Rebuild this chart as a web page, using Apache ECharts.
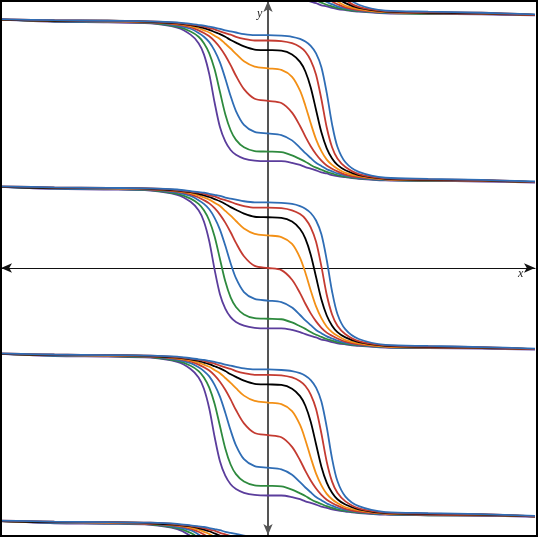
<!DOCTYPE html>
<html>
<head>
<meta charset="utf-8">
<script src="https://cdn.jsdelivr.net/npm/echarts@6/dist/echarts.min.js"></script>
<style>
  html, body { margin: 0; padding: 0; background: #fff; }
  #chart { width: 538px; height: 537px; }
</style>
</head>
<body>
<div id="chart"></div>
<script>
// x positions
var xs = [-5, -4, -3, -2.2, -1.7, -1.45, -1.3, -1.2, -1.1, -1.0, -0.9, -0.8, -0.7, -0.6, -0.45, -0.25, 0,
          0.25, 0.45, 0.6, 0.7, 0.8, 0.9, 1.0, 1.1, 1.2, 1.3, 1.45, 1.7, 2.2, 3, 4, 5];

// one family of curves (centre family), bottom plateau to top plateau
var yPurple = [1.52,1.48,1.47,1.45,1.37,1.24,1.08,0.87,0.50,-0.03,-0.49,-0.76,-0.92,-1.01,-1.08,-1.12,-1.13,
               -1.13,-1.16,-1.20,-1.24,-1.27,-1.30,-1.34,-1.36,-1.39,-1.41,-1.43,-1.46,-1.49,-1.50,-1.51,-1.53];
var yGreen = [1.52,1.49,1.48,1.46,1.39,1.30,1.20,1.08,0.89,0.59,0.17,-0.25,-0.55,-0.73,-0.87,-0.94,-0.95,
              -0.96,-1.02,-1.09,-1.14,-1.20,-1.25,-1.29,-1.33,-1.36,-1.39,-1.42,-1.45,-1.48,-1.50,-1.50,-1.52];
var yBlueLow = [1.52,1.49,1.48,1.47,1.41,1.35,1.27,1.20,1.10,0.94,0.72,0.42,0.09,-0.19,-0.45,-0.58,-0.61,
                -0.64,-0.74,-0.88,-0.98,-1.07,-1.16,-1.22,-1.28,-1.32,-1.36,-1.40,-1.44,-1.48,-1.49,-1.50,-1.52];
var yRedMid = [1.52,1.50,1.49,1.47,1.43,1.38,1.32,1.27,1.21,1.12,1.00,0.85,0.67,0.47,0.22,0.04,0,
               -0.04,-0.22,-0.47,-0.67,-0.85,-1.00,-1.12,-1.21,-1.27,-1.32,-1.38,-1.43,-1.47,-1.49,-1.50,-1.52];
var yOrange = [1.52,1.50,1.49,1.48,1.44,1.40,1.36,1.32,1.28,1.22,1.16,1.07,0.98,0.88,0.74,0.64,0.61,
               0.58,0.45,0.19,-0.09,-0.42,-0.72,-0.94,-1.10,-1.20,-1.27,-1.35,-1.41,-1.47,-1.48,-1.49,-1.52];
var yBlack = [1.52,1.50,1.50,1.48,1.45,1.42,1.39,1.36,1.33,1.29,1.25,1.20,1.14,1.09,1.02,0.96,0.95,
              0.94,0.87,0.73,0.55,0.25,-0.17,-0.59,-0.89,-1.08,-1.20,-1.30,-1.39,-1.46,-1.48,-1.49,-1.52];
var yRedTop = [1.53,1.51,1.50,1.49,1.46,1.43,1.41,1.39,1.36,1.34,1.30,1.27,1.24,1.20,1.16,1.13,1.13,
               1.12,1.08,1.01,0.92,0.76,0.49,0.03,-0.50,-0.87,-1.08,-1.24,-1.37,-1.45,-1.47,-1.48,-1.52];
var yBlueTop = [1.53,1.51,1.50,1.49,1.47,1.44,1.42,1.41,1.39,1.37,1.35,1.32,1.30,1.28,1.25,1.23,1.23,
                1.22,1.20,1.16,1.11,1.03,0.89,0.63,0.15,-0.44,-0.86,-1.15,-1.33,-1.44,-1.46,-1.48,-1.51];

// vertical position of each repeated family
var familyShift = [-6.26, -3.13, 0, 3.13, 6.26];

var curves = [
  { ys: yPurple,  color: '#5b3d9c' },
  { ys: yGreen,   color: '#2e8a3e' },
  { ys: yBlueLow, color: '#2f6db5' },
  { ys: yRedMid,  color: '#c43b31' },
  { ys: yOrange,  color: '#f39016' },
  { ys: yBlack,   color: '#000000' },
  { ys: yRedTop,  color: '#c43b31' },
  { ys: yBlueTop, color: '#2f6db5' }
];

var series = [];
familyShift.forEach(function (s) {
  curves.forEach(function (c) {
    series.push({
      type: 'line',
      showSymbol: false,
      smooth: 0.3,
      silent: true,
      lineStyle: { color: c.color, width: 1.8 },
      data: xs.map(function (x, i) { return [x, c.ys[i] + s]; })
    });
  });
});

var chart = echarts.init(document.getElementById('chart'));
chart.setOption({
  animation: false,
  grid: { left: 1, right: 3, top: 1, bottom: 2 },
  xAxis: {
    type: 'value', min: -5, max: 5,
    axisLine: { onZero: true, symbol: ['arrow', 'arrow'], symbolSize: [7, 11],
                lineStyle: { color: '#111', width: 1.2 } },
    axisTick: { show: false }, axisLabel: { show: false }, splitLine: { show: false }
  },
  yAxis: {
    type: 'value', min: -5, max: 5,
    axisLine: { onZero: true, symbol: ['arrow', 'arrow'], symbolSize: [7, 11],
                lineStyle: { color: '#555', width: 2 } },
    axisTick: { show: false }, axisLabel: { show: false }, splitLine: { show: false }
  },
  series: series,
  graphic: [
    { type: 'rect', z: 100, shape: { x: 1, y: 1, width: 536, height: 535 },
      style: { fill: null, stroke: '#000', lineWidth: 2 } },
    { type: 'text', z: 100, left: 518, top: 268,
      style: { text: 'x', font: 'italic 12px "Liberation Serif"', fill: '#222' } },
    { type: 'text', z: 100, left: 257, top: 8,
      style: { text: 'y', font: 'italic 12px "Liberation Serif"', fill: '#222' } }
  ]
});
</script>
</body>
</html>
